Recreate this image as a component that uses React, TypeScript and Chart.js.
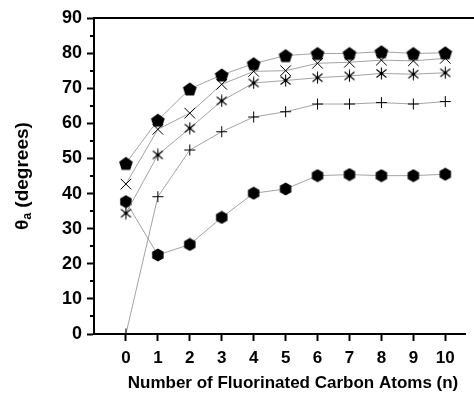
import React, { useEffect, useRef } from 'react';
import { Chart, registerables } from 'chart.js';

Chart.register(...registerables);

const nValues = [0, 1, 2, 3, 4, 5, 6, 7, 8, 9, 10];
const pentagonSeries = [48.6, 60.9, 69.8, 73.8, 77.0, 79.3, 79.9, 79.9, 80.4, 79.9, 80.1];
const crossSeries = [42.7, 58.3, 62.9, 71.1, 74.8, 75.0, 77.1, 77.4, 78.0, 77.8, 78.5];
const asteriskSeries = [34.4, 51.0, 58.6, 66.4, 71.5, 72.2, 73.0, 73.5, 74.2, 74.0, 74.4];
const plusSeries = [0, 39.1, 52.4, 57.6, 61.8, 63.3, 65.5, 65.5, 65.9, 65.5, 66.2];
const hexagonSeries = [37.7, 22.5, 25.5, 33.2, 40.1, 41.3, 45.1, 45.4, 45.1, 45.1, 45.5];

const yMajorTicks = [0, 10, 20, 30, 40, 50, 60, 70, 80, 90];
const yMinorTicks = [5, 15, 25, 35, 45, 55, 65, 75, 85];
const xTitle = 'Number of Fluorinated Carbon Atoms (n)';
const yTitleMain = 'θ';
const yTitleSub = 'a';
const yTitleRest = ' (degrees)';

const FONT = "'Liberation Sans', Arial, sans-serif";

function makeMarker(size: number, draw: (ctx: CanvasRenderingContext2D, c: number) => void) {
  const cv = document.createElement('canvas');
  cv.width = size;
  cv.height = size;
  const ctx = cv.getContext('2d')!;
  draw(ctx, size / 2);
  return cv;
}

function polygon(ctx: CanvasRenderingContext2D, cx: number, cy: number, r: number, n: number) {
  ctx.beginPath();
  for (let k = 0; k < n; k++) {
    const a = -Math.PI / 2 + (k * 2 * Math.PI) / n;
    const x = cx + r * Math.cos(a);
    const y = cy + r * Math.sin(a);
    if (k === 0) ctx.moveTo(x, y);
    else ctx.lineTo(x, y);
  }
  ctx.closePath();
  ctx.fillStyle = '#000';
  ctx.fill();
}

const framePlugin = {
  id: 'framePlugin',
  afterDraw(chart: any) {
    const ctx = chart.ctx as CanvasRenderingContext2D;
    const area = chart.chartArea;
    const y = chart.scales.y;
    ctx.save();
    ctx.strokeStyle = '#000';
    ctx.lineWidth = 2;
    ctx.beginPath();
    ctx.moveTo(area.left - 1, area.top);
    ctx.lineTo(chart.width, area.top);
    ctx.stroke();
    // minor ticks
    ctx.lineWidth = 2;
    yMinorTicks.forEach((v) => {
      const py = Math.round(y.getPixelForValue(v));
      ctx.beginPath();
      ctx.moveTo(area.left - 4, py);
      ctx.lineTo(area.left, py);
      ctx.stroke();
    });
    // y title
    ctx.fillStyle = '#000';
    ctx.textBaseline = 'middle';
    const big = `bold 19px ${FONT}`;
    const small = `bold 12px ${FONT}`;
    ctx.font = big;
    const w1 = ctx.measureText(yTitleMain).width;
    const w3 = ctx.measureText(yTitleRest).width;
    ctx.font = small;
    const w2 = ctx.measureText(yTitleSub).width;
    const total = w1 + w2 + w3;
    ctx.translate(23, 176);
    ctx.rotate(-Math.PI / 2);
    let x = -total / 2;
    ctx.textAlign = 'left';
    ctx.font = big;
    ctx.fillText(yTitleMain, x, 0);
    x += w1;
    ctx.font = small;
    ctx.fillText(yTitleSub, x, 5);
    x += w2;
    ctx.font = big;
    ctx.fillText(yTitleRest, x, 0);
    ctx.restore();
    // x title
    ctx.save();
    ctx.fillStyle = '#000';
    ctx.font = `bold 17px ${FONT}`;
    ctx.textAlign = 'center';
    ctx.textBaseline = 'middle';
    ctx.fillText(xTitle, 293, 383);
    ctx.restore();
  },
};

export default function App() {
  const ref = useRef<HTMLCanvasElement>(null);
  useEffect(() => {
    document.body.style.margin = '0';
    const pentagon = makeMarker(16, (ctx, c) => polygon(ctx, c, c + 0.6, 7.2, 5));
    const hexagon = makeMarker(14, (ctx, c) => polygon(ctx, c, c, 6.6, 6));
    const asterisk = makeMarker(13, (ctx, c) => {
      ctx.strokeStyle = '#000';
      ctx.lineWidth = 1.1;
      ctx.beginPath();
      ctx.moveTo(c, 0.5);
      ctx.lineTo(c, 12.5);
      ctx.moveTo(1.5, 2.5);
      ctx.lineTo(11.5, 10.5);
      ctx.moveTo(11.5, 2.5);
      ctx.lineTo(1.5, 10.5);
      ctx.stroke();
      ctx.beginPath();
      ctx.arc(c, c, 1.8, 0, Math.PI * 2);
      ctx.fillStyle = '#000';
      ctx.fill();
    });
    const line = { borderColor: '#999', borderWidth: 0.9, fill: false, tension: 0 };
    const toPts = (arr: number[]) => nValues.map((n, i) => ({ x: n, y: arr[i] }));
    const chart = new Chart(ref.current!, {
      type: 'line',
      data: {
        datasets: [
          { ...line, data: toPts(pentagonSeries), pointStyle: pentagon as any, pointRadius: 8 },
          { ...line, data: toPts(crossSeries), pointStyle: 'crossRot', pointRadius: 7.5, pointBorderColor: '#000', pointBorderWidth: 1, pointBackgroundColor: '#000' },
          { ...line, data: toPts(asteriskSeries), pointStyle: asterisk as any, pointRadius: 7 },
          { ...line, data: toPts(plusSeries), pointStyle: 'cross', pointRadius: 5.5, pointBorderColor: '#000', pointBorderWidth: 1, pointBackgroundColor: '#000' },
          { ...line, data: toPts(hexagonSeries), pointStyle: hexagon as any, pointRadius: 7 },
        ] as any,
      },
      options: {
        responsive: false,
        animation: false,
        layout: { padding: { top: 18, left: 0, right: 0, bottom: 0 } },
        plugins: { legend: { display: false }, tooltip: { enabled: false } },
        scales: {
          x: {
            type: 'linear',
            min: -1,
            max: 10.62,
            afterBuildTicks: (scale: any) => {
              scale.ticks = nValues.map((v) => ({ value: v }));
            },
            afterFit: (scale: any) => {
              scale.height = 60;
            },
            ticks: {
              color: '#000',
              font: { family: FONT, size: 17, weight: 'bold' },
              padding: 7,
              maxRotation: 0,
              autoSkip: false,
              callback: (v: any) => String(v),
            },
            grid: { drawOnChartArea: false, tickLength: 7, tickWidth: 2, tickColor: '#000' },
            border: { display: true, color: '#000', width: 2 },
          },
          y: {
            min: 0,
            max: 90,
            afterBuildTicks: (scale: any) => {
              scale.ticks = yMajorTicks.map((v) => ({ value: v }));
            },
            afterFit: (scale: any) => {
              scale.width = 94;
            },
            ticks: {
              color: '#000',
              font: { family: FONT, size: 18, weight: 'bold' },
              padding: 5,
              autoSkip: false,
            },
            grid: { drawOnChartArea: false, tickLength: 7, tickWidth: 2, tickColor: '#000' },
            border: { display: true, color: '#000', width: 2 },
          },
        },
      } as any,
      plugins: [framePlugin],
    });
    return () => chart.destroy();
  }, []);
  return (
    <div>
      <canvas ref={ref} width={474} height={394} style={{ display: 'block' }} />
    </div>
  );
}
